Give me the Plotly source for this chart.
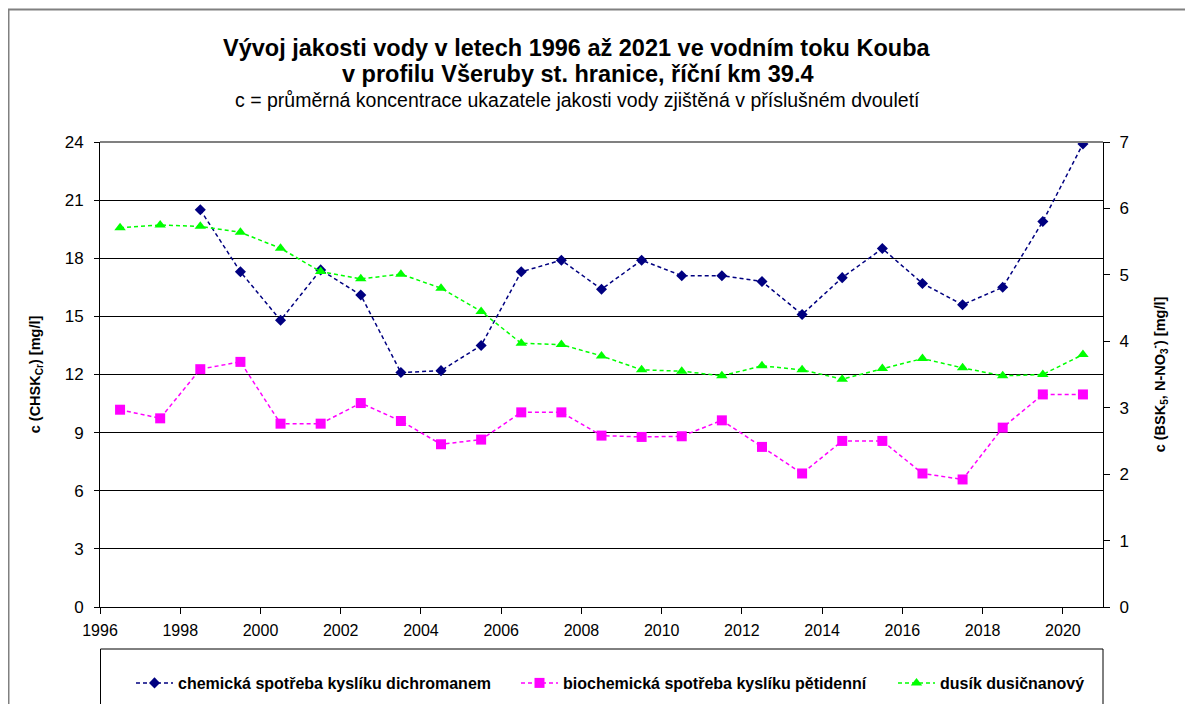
import plotly.graph_objects as go

# ---- data ----
years_all = [1996.5 + i for i in range(25)]  # two-year period midpoints 1996.5 .. 2020.5

chsk_years = years_all[2:]
chsk_values = [20.5, 17.3, 14.8, 17.4, 16.1, 12.1, 12.2, 13.5, 17.3, 17.9, 16.4, 17.9,
               17.1, 17.1, 16.8, 15.1, 17.0, 18.5, 16.7, 15.6, 16.5, 19.9, 23.9]

bsk_years = years_all
bsk_values = [2.97, 2.84, 3.58, 3.69, 2.76, 2.76, 3.07, 2.80, 2.45, 2.52, 2.93, 2.93,
              2.58, 2.56, 2.57, 2.81, 2.41, 2.01, 2.50, 2.50, 2.01, 1.92, 2.70, 3.20, 3.20]

nno3_years = years_all
nno3_values = [5.71, 5.75, 5.73, 5.64, 5.40, 5.05, 4.94, 5.01, 4.80, 4.45, 3.97, 3.95,
               3.78, 3.57, 3.55, 3.48, 3.63, 3.57, 3.43, 3.59, 3.74, 3.60, 3.48, 3.50, 3.80]

x_ticks = list(range(1996, 2021, 2))
left_ticks = list(range(0, 25, 3))
right_ticks = list(range(0, 8))

names = ["chemická spotřeba kyslíku dichromanem",
         "biochemická spotřeba kyslíku pětidenní",
         "dusík dusičnanový"]

FONT = "Liberation Sans, Arial, sans-serif"

# ---- geometry: page pixels (the page body adds an 8px margin) ----
OFF = 8
W, H = 1193 - 2 * OFF, 712 - 2 * OFF
L, R, T, B = 100, 1103, 142, 607          # plot area in page pixels
pw, ph = R - L, B - T


def px(x):
    return (x - L) / pw


def py(y):
    return (B - y) / ph


fig = go.Figure()

fig.add_trace(go.Scatter(
    x=chsk_years, y=chsk_values, name=names[0], mode="lines+markers",
    line=dict(color="#000080", width=1.5, dash="4px,3px"),
    marker=dict(symbol="diamond", size=8.5, color="#000080"),
    yaxis="y", legend="legend"))

fig.add_trace(go.Scatter(
    x=bsk_years, y=bsk_values, name=names[1], mode="lines+markers",
    line=dict(color="#FF00FF", width=1.5, dash="4px,3px"),
    marker=dict(symbol="square", size=10, color="#FF00FF"),
    yaxis="y2", legend="legend2"))

fig.add_trace(go.Scatter(
    x=nno3_years, y=nno3_values, name=names[2], mode="lines+markers",
    line=dict(color="#00FF00", width=1.5, dash="4px,3px"),
    marker=dict(symbol="triangle-up", size=10, color="#00FF00"),
    yaxis="y2", legend="legend3"))


def legend_at(xpage):
    return dict(orientation="h", x=px(xpage), xanchor="left", y=py(683), yanchor="middle",
                font=dict(family=FONT, size=16, color="black", weight="bold"),
                bgcolor="rgba(0,0,0,0)", borderwidth=0, itemwidth=37)


fig.update_layout(
    width=W, height=H,
    margin=dict(l=L - OFF, r=W - (R - OFF), t=T - OFF, b=H - (B - OFF), pad=0,
                autoexpand=False),
    paper_bgcolor="white", plot_bgcolor="white",
    font=dict(family=FONT, size=16, color="black"),
    showlegend=True,
    legend=legend_at(131),
    legend2=legend_at(516),
    legend3=legend_at(893),
    xaxis=dict(range=[1996, 2021], tickvals=x_ticks, ticktext=[str(v) for v in x_ticks],
               ticks="outside", ticklen=6, tickcolor="black", showgrid=False,
               showline=True, linecolor="black", linewidth=1, zeroline=False,
               tickfont=dict(size=16), ticklabelstandoff=3),
    yaxis=dict(range=[0, 24], tickvals=left_ticks, ticks="outside", ticklen=5,
               tickcolor="black", showgrid=True, gridcolor="black", gridwidth=1,
               showline=True, linecolor="black", linewidth=1, zeroline=False,
               tickfont=dict(size=17), ticklabelstandoff=7,
               title=dict(text="c (CHSK<sub>Cr</sub>) [mg/l]",
                          font=dict(size=14.5, weight="bold"), standoff=20)),
    yaxis2=dict(range=[0, 7], tickvals=right_ticks, overlaying="y", side="right",
                anchor="x", ticks="outside", ticklen=6, tickcolor="black",
                showgrid=False, showline=True, linecolor="black", linewidth=1,
                zeroline=False, tickfont=dict(size=17), ticklabelstandoff=6,
                title=dict(text="c (BSK<sub>5</sub>, N-NO<sub>3</sub><sup>-</sup>) [mg/l]",
                           font=dict(size=14.5, weight="bold"), standoff=26)),
    yaxis3=dict(range=[0, 7], tickvals=right_ticks, overlaying="y", side="right",
                anchor="x", ticks="inside", ticklen=5, tickcolor="black",
                showticklabels=False, showgrid=False, showline=False, zeroline=False),
)

# title lines as annotations
title_cx = px(577)
fig.add_annotation(text="<b>Vývoj jakosti vody v letech 1996 až 2021 ve vodním toku Kouba</b>",
                   xref="paper", yref="paper", x=title_cx, y=py(48.5), xanchor="center",
                   yanchor="middle", showarrow=False, font=dict(size=23.5, family=FONT))
fig.add_annotation(text="<b>v profilu Všeruby st. hranice, říční km 39.4</b>",
                   xref="paper", yref="paper", x=title_cx, y=py(74), xanchor="center",
                   yanchor="middle", showarrow=False, font=dict(size=23.5, family=FONT))
fig.add_annotation(text="c = průměrná koncentrace ukazatele jakosti vody zjištěná v příslušném dvouletí",
                   xref="paper", yref="paper", x=title_cx, y=py(99.5), xanchor="center",
                   yanchor="middle", showarrow=False, font=dict(size=19.5, family=FONT))

# outer chart frame
fig.add_shape(type="rect", xref="paper", yref="paper",
              x0=px(8.5), x1=px(1230), y0=py(9.5), y1=py(740),
              line=dict(color="#808080", width=2), layer="below")
# gray plot-area top border
fig.add_shape(type="line", xref="paper", yref="paper", x0=0, x1=1, y0=1, y1=1,
              line=dict(color="#808080", width=2), layer="above")
# legend frame
fig.add_shape(type="rect", xref="paper", yref="paper",
              x0=px(100.5), x1=px(1103), y0=py(649), y1=py(740),
              line=dict(color="black", width=1), layer="below")

fig.write_html("out.html")
